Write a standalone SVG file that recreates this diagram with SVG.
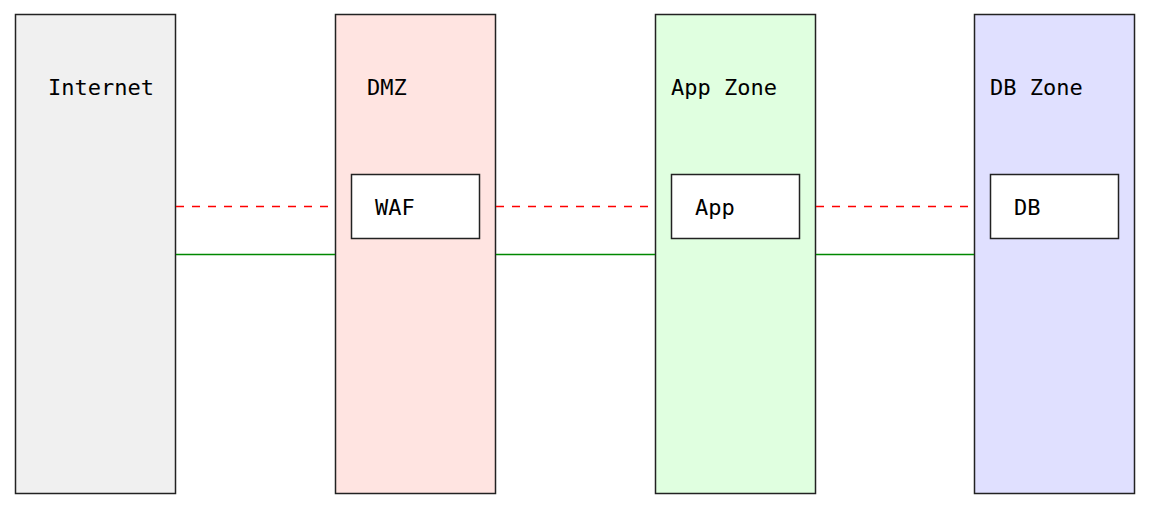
<svg xmlns="http://www.w3.org/2000/svg" width="1151" height="512" viewBox="0 0 1151 512">
<style>
.zone{stroke:#222;stroke-width:1.5}
.box{fill:#fff;stroke:#222;stroke-width:1.5}
text{font-family:"DejaVu Sans Mono",monospace;font-size:22px;fill:#000}
.dash{stroke:#f00;stroke-width:1.5;stroke-dasharray:8 8;fill:none}
.solid{stroke:#080;stroke-width:1.5;fill:none}
</style>
<rect width="1151" height="512" fill="#fff"/>
<g id="internet">
<rect class="zone" x="15.5" y="14.5" width="160" height="479" fill="#f0f0f0"/>
<text x="48" y="94.5">Internet</text>
</g>
<g id="dmz">
<rect class="zone" x="335.5" y="14.5" width="160" height="479" fill="#ffe4e1"/>
<text x="367" y="94.5">DMZ</text>
<g id="waf">
<rect class="box" x="351.5" y="174.5" width="128" height="64"/>
<text x="375" y="214.5">WAF</text>
</g>
</g>
<g id="appzone">
<rect class="zone" x="655.5" y="14.5" width="160" height="479" fill="#e0ffe0"/>
<text x="671" y="94.5">App Zone</text>
<g id="app">
<rect class="box" x="671.5" y="174.5" width="128" height="64"/>
<text x="695" y="214.5">App</text>
</g>
</g>
<g id="dbzone">
<rect class="zone" x="974.5" y="14.5" width="160" height="479" fill="#e0e0ff"/>
<text x="990" y="94.5">DB Zone</text>
<g id="db">
<rect class="box" x="990.5" y="174.5" width="128" height="64"/>
<text x="1014" y="214.5">DB</text>
</g>
</g>
<g id="connectors">
<line class="dash" x1="176" y1="206.5" x2="335" y2="206.5"/>
<line class="solid" x1="176" y1="254.5" x2="335" y2="254.5"/>
<line class="dash" x1="496" y1="206.5" x2="655" y2="206.5"/>
<line class="solid" x1="496" y1="254.5" x2="655" y2="254.5"/>
<line class="dash" x1="816" y1="206.5" x2="974" y2="206.5"/>
<line class="solid" x1="816" y1="254.5" x2="974" y2="254.5"/>
</g>
</svg>
